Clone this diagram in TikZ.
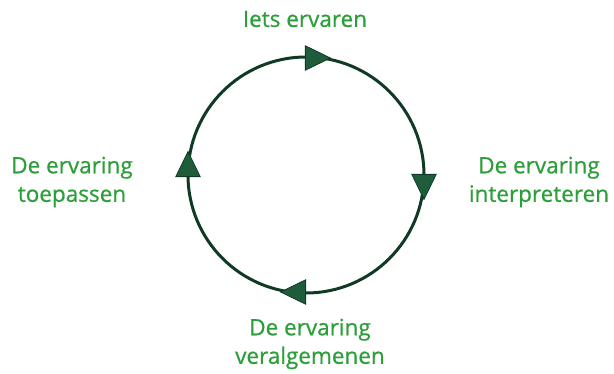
\documentclass[tikz,border=0pt]{standalone}
\usepackage{fontspec}
\newfontfamily\lblfont{Open Sans}[FakeBold=0.7]
\usetikzlibrary{shapes.geometric}
\definecolor{txtgreen}{RGB}{44,158,58}
\definecolor{ringdark}{RGB}{16,58,36}
\definecolor{arrowfill}{RGB}{30,92,60}
\tikzset{
  lbl/.style={text=txtgreen, font=\lblfont\fontsize{22.5}{28.5}\selectfont, align=center, inner sep=0pt},
  tip/.style={isosceles triangle, isosceles triangle apex angle=52, fill=arrowfill, draw=ringdark, line width=0.8pt, minimum width=22pt, minimum height=25pt, inner sep=0pt}
}
\begin{document}
\begin{tikzpicture}[x=1pt,y=-1pt]
\useasboundingbox (0,0) rectangle (614,374);
\coordinate (c) at (306,175);
\draw[ringdark, line width=3pt] (c) circle[radius=118];
\node[tip, shape border rotate=0] (tt) at (313,58) {};
\node[tip, shape border rotate=-90] (tr) at (424,182) {};
\node[tip, shape border rotate=180] (tb) at (298,292) {};
\node[tip, shape border rotate=90] (tl) at (188,169) {};
\node[lbl] (top) at (305,19) {Iets ervaren};
\node[lbl] (right) at (539,182) {De ervaring\\interpreteren};
\node[lbl] (bottom) at (310,344) {De ervaring\\veralgemenen};
\node[lbl] (left) at (72,182) {De ervaring\\toepassen};
\end{tikzpicture}
\end{document}
